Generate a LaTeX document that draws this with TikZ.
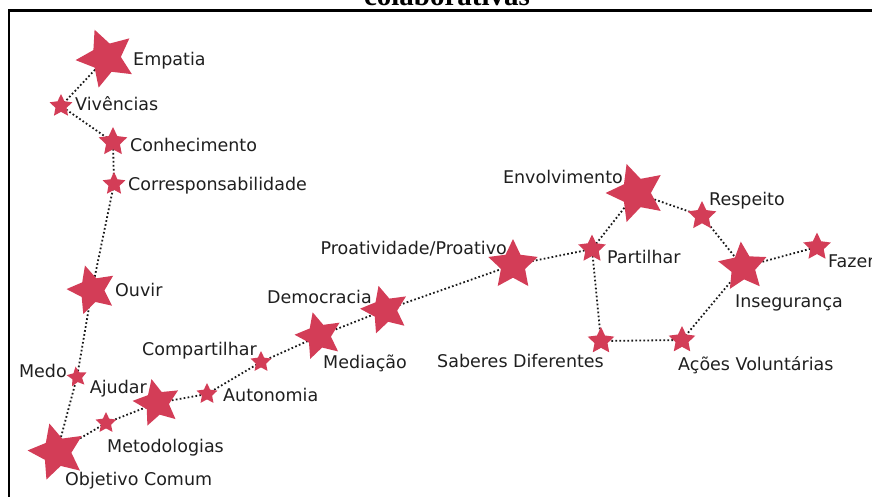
\documentclass[tikz,border=0pt]{standalone}
\usepackage{fontspec}
\setmainfont{DejaVu Sans}
\newfontfamily\titulo{Liberation Serif}
\usepackage{xcolor}
\usetikzlibrary{shapes.geometric,backgrounds}
\definecolor{estrela}{RGB}{211,61,87}
\tikzset{
  astro/.style={star,star points=5,star point ratio=2.05,fill=estrela,draw=none,inner sep=0pt,outer sep=0pt,minimum size=#1},
  rotulo/.style={font=\fontsize{17.5}{20}\selectfont,inner sep=0pt,text=black!88},
  ligacao/.style={line width=1.8pt,dash pattern=on 1.7pt off 2.3pt,black!90}
}

\begin{document}
\begin{tikzpicture}[x=1pt,y=-1pt]
\useasboundingbox (0,0) rectangle (872,497);
\draw[line width=2.5pt] (9,505) -- (9,10.5) -- (880,10.5);
\node[font=\titulo\bfseries\fontsize{29}{30}\selectfont,anchor=base,inner sep=0pt] (tit) at (447,6) {colaborativas};

\node[astro=61,shape border rotate=22] (emp) at (106,58) {};
\node[astro=24] (viv) at (61,106) {};
\node[astro=30] (con) at (113,142) {};
\node[astro=24] (cor) at (114,184) {};
\node[astro=51,shape border rotate=16] (ouv) at (92,290) {};
\node[astro=21,shape border rotate=8] (med) at (77,377) {};
\node[astro=59,shape border rotate=15] (obj) at (57,452) {};
\node[astro=22] (met) at (106,423) {};
\node[astro=49,shape border rotate=13] (aju) at (157,403) {};
\node[astro=22] (aut) at (207,394) {};
\node[astro=22] (com) at (261,362) {};
\node[astro=49,shape border rotate=15] (mdc) at (319,336) {};
\node[astro=50,shape border rotate=15] (dem) at (385,310) {};
\node[astro=52] (pro) at (513,265) {};
\node[astro=61,shape border rotate=18] (env) at (636,193) {};
\node[astro=30] (res) at (702,216) {};
\node[astro=29] (par) at (592,249) {};
\node[astro=51,shape border rotate=5] (ins) at (743,267) {};
\node[astro=29] (faz) at (817,247) {};
\node[astro=28] (sab) at (601,341) {};
\node[astro=28] (aco) at (682,340) {};

\node[rotulo,anchor=base west] (temp) at (133,65.5) {Empatia};
\node[rotulo,anchor=base west] (tviv) at (75,111) {Vivências};
\node[rotulo,anchor=base west] (tcon) at (130,152) {Conhecimento};
\node[rotulo,anchor=base west] (tcor) at (128,190) {Corresponsabilidade};
\node[rotulo,anchor=base west] (touv) at (115,296) {Ouvir};
\node[rotulo,anchor=base east] (tmed) at (67,377) {Medo};
\node[rotulo,anchor=base east] (taju) at (147,393) {Ajudar};
\node[rotulo,anchor=base west] (tmet) at (107,452) {Metodologias};
\node[rotulo,anchor=base west] (tobj) at (65,485) {Objetivo Comum};
\node[rotulo,anchor=base west] (taut) at (223,401) {Autonomia};
\node[rotulo,anchor=base east] (tcom) at (257,355) {Compartilhar};
\node[rotulo,anchor=base west] (tmdc) at (323,368) {Mediação};
\node[rotulo,anchor=base east] (tdem) at (372,303) {Democracia};
\node[rotulo,anchor=base east] (tpro) at (507,254) {Proatividade/Proativo};
\node[rotulo,anchor=base west] (tsab) at (437,367) {Saberes Diferentes};
\node[rotulo,anchor=base east] (tenv) at (623,183) {Envolvimento};
\node[rotulo,anchor=base west] (tres) at (709,205) {Respeito};
\node[rotulo,anchor=base west] (tpar) at (607,263) {Partilhar};
\node[rotulo,anchor=base west] (tins) at (735,307) {Insegurança};
\node[rotulo,anchor=base west] (tfaz) at (828,267) {Fazer};
\node[rotulo,anchor=base west] (taco) at (678,370) {Ações Voluntárias};

\begin{scope}[on background layer]
\draw[ligacao] (emp.center) -- (viv.center) -- (con.center) -- (cor.center) -- (ouv.center)
  -- (med.center) -- (obj.center) -- (met.center) -- (aju.center) -- (aut.center)
  -- (com.center) -- (mdc.center) -- (dem.center) -- (pro.center) -- (par.center)
  -- (env.center) -- (res.center) -- (ins.center) -- (faz.center);
\draw[ligacao] (ins.center) -- (aco.center) -- (sab.center) -- (par.center);
\end{scope}
\end{tikzpicture}
\end{document}
